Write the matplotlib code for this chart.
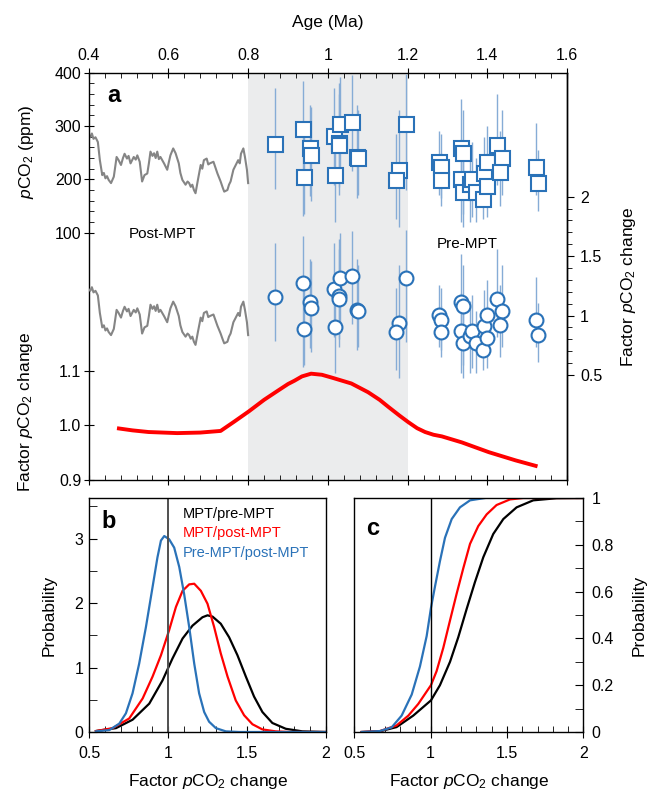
import numpy as np
import matplotlib
matplotlib.use("Agg")
import matplotlib.pyplot as plt

plt.rcParams['font.family'] = ['Liberation Sans', 'DejaVu Sans']
plt.rcParams['mathtext.fontset'] = 'custom'
plt.rcParams['mathtext.rm'] = 'Liberation Sans'
plt.rcParams['mathtext.it'] = 'Liberation Sans:italic'
plt.rcParams['axes.linewidth'] = 1.0

# ice core pCO2 (ppm), post-MPT
ice_age = [0.400, 0.404, 0.408, 0.412, 0.417, 0.423, 0.428, 0.434, 0.438, 0.442,
           0.446, 0.450, 0.456, 0.463, 0.467, 0.470, 0.475, 0.481, 0.486, 0.490,
           0.496, 0.500, 0.505, 0.513, 0.518, 0.522, 0.528, 0.534, 0.540, 0.547,
           0.551, 0.555, 0.560, 0.564, 0.568, 0.572, 0.576, 0.580, 0.589, 0.597,
           0.601, 0.605, 0.612, 0.618, 0.626, 0.630, 0.635, 0.643, 0.648, 0.652,
           0.656, 0.660, 0.664, 0.668, 0.674, 0.681, 0.685, 0.689, 0.696, 0.700,
           0.704, 0.713, 0.718, 0.723, 0.731, 0.736, 0.740, 0.748, 0.752, 0.756,
           0.763, 0.769, 0.775, 0.779, 0.782, 0.788, 0.792, 0.797, 0.800]
ice_co2 = [282, 279, 286, 276, 279, 270, 236, 208, 212, 202,
           206, 199, 193, 205, 226, 242, 236, 227, 240, 248,
           239, 244, 230, 242, 237, 245, 233, 196, 208, 211,
           230, 252, 244, 249, 240, 252, 238, 242, 230, 218,
           232, 245, 258, 249, 230, 212, 199, 190, 196, 193,
           186, 190, 180, 174, 199, 227, 220, 236, 239, 228,
           230, 233, 222, 211, 196, 185, 177, 180, 190, 196,
           218, 227, 236, 230, 248, 258, 242, 218, 193]

# boron-based pCO2 (ppm) with error ranges
b_age = [0.867, 0.938, 0.955, 0.957, 0.941, 1.015, 1.031, 1.027, 1.029, 1.019,
         1.060, 1.072, 1.075, 1.197, 1.178, 1.170,
         1.280, 1.283, 1.284, 1.334, 1.339, 1.335, 1.338, 1.357, 1.362, 1.372,
         1.388, 1.391, 1.400, 1.400, 1.425, 1.437, 1.433, 1.522, 1.526]
b_co2 = [267, 294, 258, 246, 205, 282, 304, 269, 264, 208,
         308, 242, 240, 304, 217, 199,
         233, 223, 199, 258, 250, 200, 177, 191, 200, 177,
         164, 211, 233, 188, 264, 240, 213, 223, 194]
b_lo = [181, 131, 168, 160, 135, 190, 205, 185, 170, 120,
        215, 165, 170, 180, 110, 125,
        170, 165, 150, 180, 135, 120, 110, 120, 130, 120,
        125, 150, 170, 130, 190, 170, 150, 170, 140]
b_hi = [372, 385, 340, 336, 300, 372, 392, 380, 360, 300,
        395, 340, 330, 398, 330, 285,
        290, 285, 250, 350, 330, 275, 240, 260, 270, 240,
        225, 280, 300, 250, 360, 330, 290, 305, 255]
post_mpt_ref = 231.0  # normalisation for factor change

# smoothed factor change (red)
red_age = [0.471, 0.510, 0.550, 0.622, 0.680, 0.731, 0.765, 0.802, 0.840, 0.875,
           0.900, 0.916, 0.935, 0.958, 0.985, 1.009, 1.059, 1.101, 1.130, 1.152,
           1.180, 1.202, 1.224, 1.244, 1.265, 1.286, 1.336, 1.404, 1.471, 1.526]
red_fac = [0.995, 0.991, 0.988, 0.986, 0.987, 0.990, 1.007, 1.026, 1.047, 1.064,
           1.076, 1.082, 1.090, 1.095, 1.093, 1.088, 1.077, 1.061, 1.047, 1.034,
           1.018, 1.006, 0.995, 0.988, 0.983, 0.980, 0.969, 0.951, 0.936, 0.925]

# panel b: probability densities
pdf_blue_x = [0.542, 0.627, 0.690, 0.732, 0.774, 0.816, 0.859, 0.901, 0.932, 0.954,
              0.975, 1.006, 1.038, 1.070, 1.101, 1.133, 1.165, 1.196, 1.228, 1.259,
              1.302, 1.365, 1.449, 2.0]
pdf_blue_y = [0.01, 0.03, 0.13, 0.29, 0.60, 1.06, 1.63, 2.25, 2.71, 2.97,
              3.04, 2.99, 2.86, 2.56, 2.14, 1.63, 1.06, 0.60, 0.31, 0.16,
              0.06, 0.01, 0.0, 0.0]
pdf_red_x = [0.542, 0.648, 0.753, 0.838, 0.901, 0.954, 1.006, 1.049, 1.091, 1.133,
             1.165, 1.207, 1.249, 1.291, 1.333, 1.376, 1.428, 1.481, 1.534, 1.597,
             1.681, 1.766, 2.0]
pdf_red_y = [0.015, 0.06, 0.21, 0.52, 0.86, 1.19, 1.58, 1.94, 2.19, 2.29,
             2.30, 2.19, 1.99, 1.63, 1.22, 0.86, 0.49, 0.26, 0.12, 0.04,
             0.01, 0.0, 0.0]
pdf_blk_x = [0.542, 0.669, 0.774, 0.880, 0.964, 1.027, 1.091, 1.154, 1.217, 1.249,
             1.281, 1.333, 1.386, 1.439, 1.492, 1.544, 1.597, 1.660, 1.745, 1.850,
             1.998]
pdf_blk_y = [0.015, 0.06, 0.19, 0.44, 0.80, 1.14, 1.45, 1.65, 1.78, 1.81,
             1.79, 1.68, 1.47, 1.19, 0.86, 0.55, 0.31, 0.14, 0.05, 0.01,
             0.0]

# panel c: cumulative probabilities
cdf_blue_x = [0.548, 0.668, 0.745, 0.810, 0.876, 0.930, 0.974, 1.002, 1.028, 1.061,
              1.094, 1.138, 1.192, 1.258, 1.356]
cdf_blue_y = [0.0, 0.004, 0.02, 0.07, 0.16, 0.28, 0.41, 0.53, 0.62, 0.73,
              0.83, 0.91, 0.96, 0.99, 1.0]
cdf_red_x = [0.548, 0.668, 0.777, 0.854, 0.919, 1.002, 1.039, 1.083, 1.127, 1.170,
             1.214, 1.258, 1.312, 1.367, 1.432, 1.520, 1.607, 2.0]
cdf_red_y = [0.0, 0.004, 0.028, 0.07, 0.12, 0.20, 0.26, 0.36, 0.477, 0.59,
             0.70, 0.804, 0.88, 0.93, 0.97, 0.994, 1.0, 1.0]
cdf_blk_x = [0.548, 0.668, 0.777, 0.886, 1.002, 1.061, 1.127, 1.181, 1.236, 1.290,
             1.345, 1.410, 1.476, 1.563, 1.672, 1.825, 2.0]
cdf_blk_y = [0.0, 0.003, 0.021, 0.07, 0.135, 0.20, 0.30, 0.405, 0.526, 0.64,
             0.747, 0.846, 0.91, 0.96, 0.99, 0.999, 1.0]

BLUE = '#2a72b8'
BAR = '#86acd6'
W, H = 647, 792


def frac(x0, y0, x1, y1):
    return [x0 / W, 1 - y1 / H, (x1 - x0) / W, (y1 - y0) / H]


fig = plt.figure(figsize=(6.47, 7.92), dpi=100)

# ---- panel a ----
ax = fig.add_axes(frac(88.7, 72.7, 567, 480))
ax.set_xlim(0.4, 1.6)
ax.set_ylim(-363.7, 400)
axr = ax.twinx()
axr.set_ylim(-0.383, 3.042)
axf = ax.twinx()
axf.set_ylim(0.9, 1.647)

ax.axvspan(0.8, 1.2, color='#ebeced', lw=0, zorder=0)
ax.plot(ice_age, ice_co2, color='#858585', lw=1.5, zorder=2)
b_age_a = np.array(b_age)
co2 = np.array(b_co2)
lo = np.array(b_lo)
hi = np.array(b_hi)
ax.vlines(b_age_a, lo, hi, color=BAR, lw=1.0, zorder=3)
ax.plot(b_age_a, co2, 's', ms=10.8, mfc='white', mec=BLUE, mew=1.5, zorder=4)

fac = np.array(ice_co2) / post_mpt_ref
axr.plot(ice_age, fac, color='#858585', lw=1.5, zorder=2)
axr.vlines(b_age_a, lo / post_mpt_ref, hi / post_mpt_ref, color=BAR, lw=1.0, zorder=3)
axr.plot(b_age_a, co2 / post_mpt_ref, 'o', ms=10, mfc='white', mec=BLUE, mew=1.5, zorder=4)

axf.plot(red_age, red_fac, color='#ff0000', lw=2.8, solid_capstyle='butt')

ax.set_xticks(np.arange(0.4, 1.61, 0.2))
ax.set_xticklabels(['0.4', '0.6', '0.8', '1', '1.2', '1.4', '1.6'])
ax.set_xticks(np.arange(0.4, 1.6, 0.04), minor=True)
ax.tick_params(axis='x', which='both', top=True, bottom=True,
               labeltop=True, labelbottom=False, labelsize=11.5)
ax.tick_params(axis='x', which='major', direction='inout', length=7.5, pad=3)
ax.tick_params(axis='x', which='minor', direction='in', length=3.6)
ax.set_yticks([100, 200, 300, 400])
ax.set_yticks([v for v in range(120, 400, 20) if v % 100], minor=True)
ax.tick_params(axis='y', which='both', right=False, labelsize=11.5)
ax.tick_params(axis='y', which='major', direction='inout', length=7.5, pad=1.5)
ax.tick_params(axis='y', which='minor', direction='in', length=3.6)

axr.set_yticks([0.5, 1, 1.5, 2])
axr.set_yticklabels(['0.5', '1', '1.5', '2'])
axr.set_yticks(np.arange(0.6, 2.0, 0.1), minor=True)
axr.tick_params(axis='y', which='both', direction='out', left=False, labelsize=11.5)
axr.tick_params(axis='y', which='major', length=5, pad=4.5)
axr.tick_params(axis='y', which='minor', length=3.4)
for s in ['left', 'top', 'bottom']:
    axr.spines[s].set_visible(False)

axf.yaxis.tick_left()
axf.set_yticks([0.9, 1.0, 1.1])
axf.set_yticklabels(['0.9', '1.0', '1.1'])
axf.tick_params(axis='y', direction='inout', length=7.5, pad=1.5, labelsize=11.5,
                right=False, left=True)
for s in axf.spines.values():
    s.set_visible(False)

fig.text(328 / W, 1 - 22 / H, 'Age (Ma)', ha='center', va='center', fontsize=12.5)
fig.text(26 / W, 1 - 152 / H, r'$p$CO$_2$ (ppm)', rotation=90,
         ha='center', va='center', fontsize=12.5)
fig.text(26 / W, 1 - 412 / H, r'Factor $p$CO$_2$ change', rotation=90,
         ha='center', va='center', fontsize=12.5)
fig.text(629 / W, 1 - 287 / H, r'Factor $p$CO$_2$ change', rotation=90,
         ha='center', va='center', fontsize=12.5)
fig.text(114 / W, 1 - 96 / H, 'a', ha='center', va='center',
         fontsize=17, fontweight='bold')
fig.text(162 / W, 1 - 234 / H, 'Post-MPT', ha='center', va='center', fontsize=11)
fig.text(467 / W, 1 - 244 / H, 'Pre-MPT', ha='center', va='center', fontsize=11)

# ---- panel b ----
axb = fig.add_axes(frac(89.3, 498, 326, 732))
axb.plot(pdf_blk_x, pdf_blk_y, color='black', lw=1.6)
axb.plot(pdf_red_x, pdf_red_y, color='#ff0000', lw=1.6)
axb.plot(pdf_blue_x, pdf_blue_y, color=BLUE, lw=1.6)
axb.axvline(1.0, color='#505050', lw=1.4)
axb.set_xlim(0.5, 2)
axb.set_ylim(0, 3.63)
axb.set_xticks([0.5, 1, 1.5, 2])
axb.set_xticklabels(['0.5', '1', '1.5', '2'])
axb.set_xticks(np.arange(0.6, 2.0, 0.1), minor=True)
axb.set_yticks([0, 1, 2, 3])
axb.set_yticks([0.5, 1.5, 2.5, 3.5], minor=True)
axb.tick_params(axis='x', which='major', direction='inout', length=8.5, pad=6, labelsize=11.5)
axb.tick_params(axis='x', which='minor', direction='in', length=4)
axb.tick_params(axis='y', which='both', direction='in', length=6, pad=4.3, labelsize=11.5)
axb.set_ylabel('Probability', fontsize=12.5, labelpad=13)
axb.set_xlabel(r'Factor $p$CO$_2$ change', fontsize=12.5, labelpad=8)
axb.text(0.08, 0.9, 'b', transform=axb.transAxes, ha='center', va='center',
         fontsize=17, fontweight='bold')
axb.text(183 / W, 1 - 518 / H, 'MPT/pre-MPT', transform=fig.transFigure,
         color='black', fontsize=10.5, va='baseline')
axb.text(183 / W, 1 - 537 / H, 'MPT/post-MPT', transform=fig.transFigure,
         color='#ff0000', fontsize=10.5, va='baseline')
axb.text(183 / W, 1 - 556.5 / H, 'Pre-MPT/post-MPT', transform=fig.transFigure,
         color=BLUE, fontsize=10.5, va='baseline')

# ---- panel c ----
axc = fig.add_axes(frac(354.3, 498, 583.3, 732))
axc.plot(cdf_blk_x, cdf_blk_y, color='black', lw=1.6)
axc.plot(cdf_red_x, cdf_red_y, color='#ff0000', lw=1.6)
axc.plot(cdf_blue_x, cdf_blue_y, color=BLUE, lw=1.6)
axc.axvline(1.0, color='black', lw=1.0)
axc.set_xlim(0.5, 2)
axc.set_ylim(0, 1)
axc.set_xticks([0.5, 1, 1.5, 2])
axc.set_xticklabels(['0.5', '1', '1.5', '2'])
axc.set_xticks(np.arange(0.6, 2.0, 0.1), minor=True)
axc.yaxis.tick_right()
axc.yaxis.set_label_position('right')
axc.set_yticks(np.arange(0, 1.01, 0.2))
axc.set_yticklabels(['0', '0.2', '0.4', '0.6', '0.8', '1'])
axc.set_yticks(np.arange(0.1, 1.0, 0.2), minor=True)
axc.tick_params(axis='x', which='major', direction='inout', length=8.5, pad=6, labelsize=11.5)
axc.tick_params(axis='x', which='minor', direction='in', length=4)
axc.tick_params(axis='y', which='both', direction='in', length=6, pad=6, labelsize=11.5)
axc.set_ylabel('Probability', fontsize=12.5, labelpad=13)
axc.set_xlabel(r'Factor $p$CO$_2$ change', fontsize=12.5, labelpad=8)
axc.text(0.08, 0.87, 'c', transform=axc.transAxes, ha='center', va='center',
         fontsize=17, fontweight='bold')

fig.savefig('out.png', dpi=100)
